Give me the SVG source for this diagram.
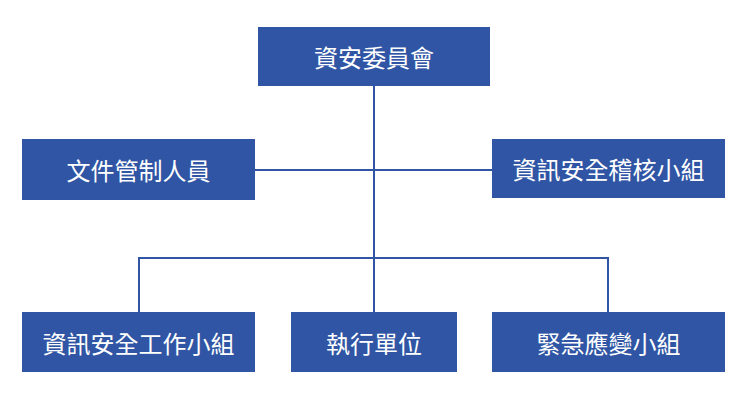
<svg xmlns="http://www.w3.org/2000/svg" width="748" height="400" viewBox="0 0 748 400">
<style>
.b{fill:#2F55A4}
.t{fill:#fff;font-family:"Noto Sans CJK TC","Noto Sans CJK SC",sans-serif;font-size:24px;text-anchor:middle;dominant-baseline:central}
.l{stroke:#2F55A4;stroke-width:2;fill:none}
</style>
<rect width="748" height="400" fill="#fff"/>
<g id="connectors">
<path class="l" d="M374 86V312M255 170H492M139 312V258H608V312"/>
</g>
<g id="n1"><rect class="b" x="258" y="27" width="232" height="59"/><text class="t" x="374" y="56.5">資安委員會</text></g>
<g id="n2"><rect class="b" x="22" y="139" width="233" height="61"/><text class="t" x="138.5" y="169.5">文件管制人員</text></g>
<g id="n3"><rect class="b" x="492" y="139" width="233" height="59"/><text class="t" x="608.5" y="168.5">資訊安全稽核小組</text></g>
<g id="n4"><rect class="b" x="22" y="312" width="233" height="60"/><text class="t" x="138.5" y="342">資訊安全工作小組</text></g>
<g id="n5"><rect class="b" x="291" y="312" width="166" height="60"/><text class="t" x="374" y="342">執行單位</text></g>
<g id="n6"><rect class="b" x="492" y="312" width="233" height="60"/><text class="t" x="608.5" y="342">緊急應變小組</text></g>
</svg>
